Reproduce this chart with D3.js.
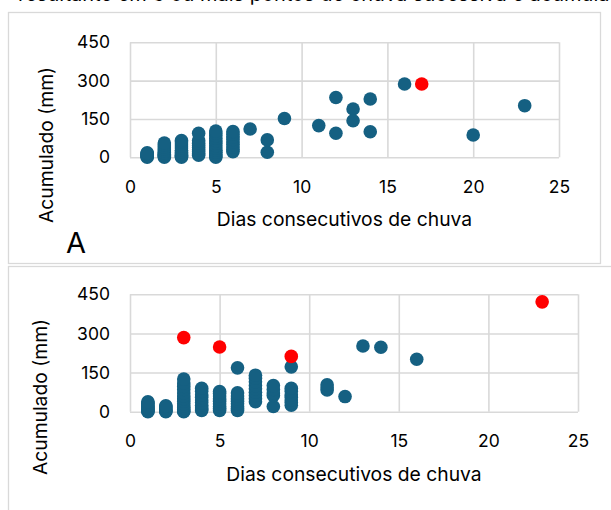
<!DOCTYPE html>
<html>
<head>
<meta charset="utf-8">
<script src="https://cdn.jsdelivr.net/npm/d3@7"></script>
<style>
  html, body { margin: 0; padding: 0; background: #ffffff; }
  svg { display: block; }
  text { font-family: "Inter", "Open Sans", "Liberation Sans", sans-serif; fill: #000; }
</style>
</head>
<body>
<svg id="chart" width="611" height="510"></svg>
<script>
// ---- data -------------------------------------------------------------
const yTicks = [0, 150, 300, 450];
const xTicks = [0, 5, 10, 15, 20, 25];
const xTitle = "Dias consecutivos de chuva";
const yTitle = "Acumulado (mm)";

// Panel A: consecutive rain days vs accumulated rainfall
const diasA = [
  1,1,1,1,1,1,1,
  2,2,2,2,2,2,2,2,2,2,
  3,3,3,3,3,3,3,3,3,3,3,
  4,4,4,4,4,4,4,4,4,
  5,5,5,5,5,5,5,5,5,5,5,5,5,
  6,6,6,6,6,6,6,6,6,
  7, 8,8, 9, 11, 12,12, 13,13, 14,14, 16, 20, 23
];
const acumA = [
  0,3,6,9,12,15,18,
  0,4,8,12,18,25,32,40,48,56,
  0,4,8,14,20,28,36,44,52,60,66,
  8,14,22,30,38,46,55,66,94,
  0,5,12,20,28,36,45,55,65,75,85,95,103,
  22,30,40,50,60,70,80,90,101,
  111, 20,68, 152, 124, 234,94, 189,143, 228,100, 287, 87, 202
];
const diasDestaqueA = [17];
const acumDestaqueA = [287];

// Panel B
const diasB = [
  1,1,1,1,1,1,1,1,1,1,
  2,2,2,2,2,2,2,
  3,3,3,3,3,3,3,3,3,3,3,3,3,3,
  4,4,4,4,4,4,4,4,4,4,
  5,5,5,5,5,5,5,5,5,
  6,6,6,6,6,6,6,6,6,
  7,7,7,7,7,7,7,7,7,
  8,8,8,8,8,
  9,9,9,9,9,9,9,9,
  11,11,11, 12, 13, 14, 16
];
const acumB = [
  0,3,6,10,14,18,22,27,32,38,
  0,3,6,10,15,20,23,
  0,3,8,15,22,30,40,50,60,72,85,97,110,125,
  5,10,18,25,35,45,55,65,78,90,
  5,12,20,30,40,50,60,70,77,
  5,12,20,30,40,50,60,72,168,
  38,50,62,75,88,100,115,128,140,
  20,62,72,85,100,
  25,35,45,55,65,78,90,172,
  83,92,103, 58, 252, 247, 201
];
const diasDestaqueB = [3, 5, 9, 23];
const acumDestaqueB = [284, 248, 212, 421];

// ---- layout -----------------------------------------------------------
const svg = d3.select("#chart");
const GRID = "#d9d9d9";
const BLUE = "#156082";
const RED = "#ff0000";

// last line of the running paragraph above the figure (its upper part lies above the page edge)
svg.append("text")
  .attr("x", 18).attr("y", 1.2)
  .attr("font-size", 20)
  .text("resultante em 3 ou mais pontos de chuva sucessiva e acumulada, que");

const panels = [
  {
    frame: { x: 8.5, y: 12.5, w: 592, h: 251 },
    x0: 130, x1: 559, yTop: 42.3, yBot: 157.3,
    yTitleX: 46, yTitleY: 145,
    xTitleY: 226,
    letter: "A",
    dias: diasA, acum: acumA, dDias: diasDestaqueA, dAcum: acumDestaqueA
  },
  {
    frame: { x: 8.5, y: 266.5, w: 620, h: 260 },
    x0: 130, x1: 578, yTop: 294.3, yBot: 411.7,
    yTitleX: 40, yTitleY: 397,
    xTitleY: 481,
    letter: null,
    dias: diasB, acum: acumB, dDias: diasDestaqueB, dAcum: acumDestaqueB
  }
];

panels.forEach(p => {
  svg.append("rect")
    .attr("x", p.frame.x).attr("y", p.frame.y)
    .attr("width", p.frame.w).attr("height", p.frame.h)
    .attr("fill", "#fff").attr("stroke", GRID).attr("stroke-width", 1.3);

  const x = d3.scaleLinear().domain([0, 25]).range([p.x0, p.x1]);
  const y = d3.scaleLinear().domain([0, 450]).range([p.yBot, p.yTop]);
  const w = p.x1 - p.x0, h = p.yBot - p.yTop;

  // horizontal gridlines + value labels
  const gy = svg.append("g")
    .attr("transform", `translate(${p.x0},0)`)
    .call(d3.axisLeft(y).tickValues(yTicks).tickSize(-w).tickPadding(20));
  // vertical gridlines + day labels
  const gx = svg.append("g")
    .attr("transform", `translate(0,${p.yBot})`)
    .call(d3.axisBottom(x).tickValues(xTicks).tickSize(-h).tickPadding(23));

  [gx, gy].forEach(g => {
    g.select(".domain").remove();
    g.selectAll(".tick line").attr("stroke", GRID).attr("stroke-width", 1.6);
    g.selectAll(".tick text")
      .attr("fill", "#000")
      .attr("font-size", 17.5)
      .attr("font-family", "Inter, 'Open Sans', sans-serif");
  });

  // points
  const pts = p.dias.map((d, i) => ({ d, a: p.acum[i] }));
  svg.append("g").selectAll("circle")
    .data(pts).join("circle")
    .attr("cx", v => x(v.d)).attr("cy", v => y(v.a))
    .attr("r", 6.8).attr("fill", BLUE);

  const hi = p.dDias.map((d, i) => ({ d, a: p.dAcum[i] }));
  svg.append("g").selectAll("circle")
    .data(hi).join("circle")
    .attr("cx", v => x(v.d)).attr("cy", v => y(v.a))
    .attr("r", 6.8).attr("fill", RED);

  // axis titles
  svg.append("text")
    .attr("x", (p.x0 + p.x1) / 2).attr("y", p.xTitleY)
    .attr("text-anchor", "middle").attr("font-size", 19.3)
    .text(xTitle);

  svg.append("text")
    .attr("transform", `translate(${p.yTitleX},${p.yTitleY}) rotate(-90)`)
    .attr("text-anchor", "middle").attr("dy", "0.35em").attr("font-size", 19.3)
    .text(yTitle);

  if (p.letter) {
    svg.append("text")
      .attr("x", 66).attr("y", 253)
      .attr("font-size", 29)
      .text(p.letter);
  }
});
</script>
</body>
</html>
